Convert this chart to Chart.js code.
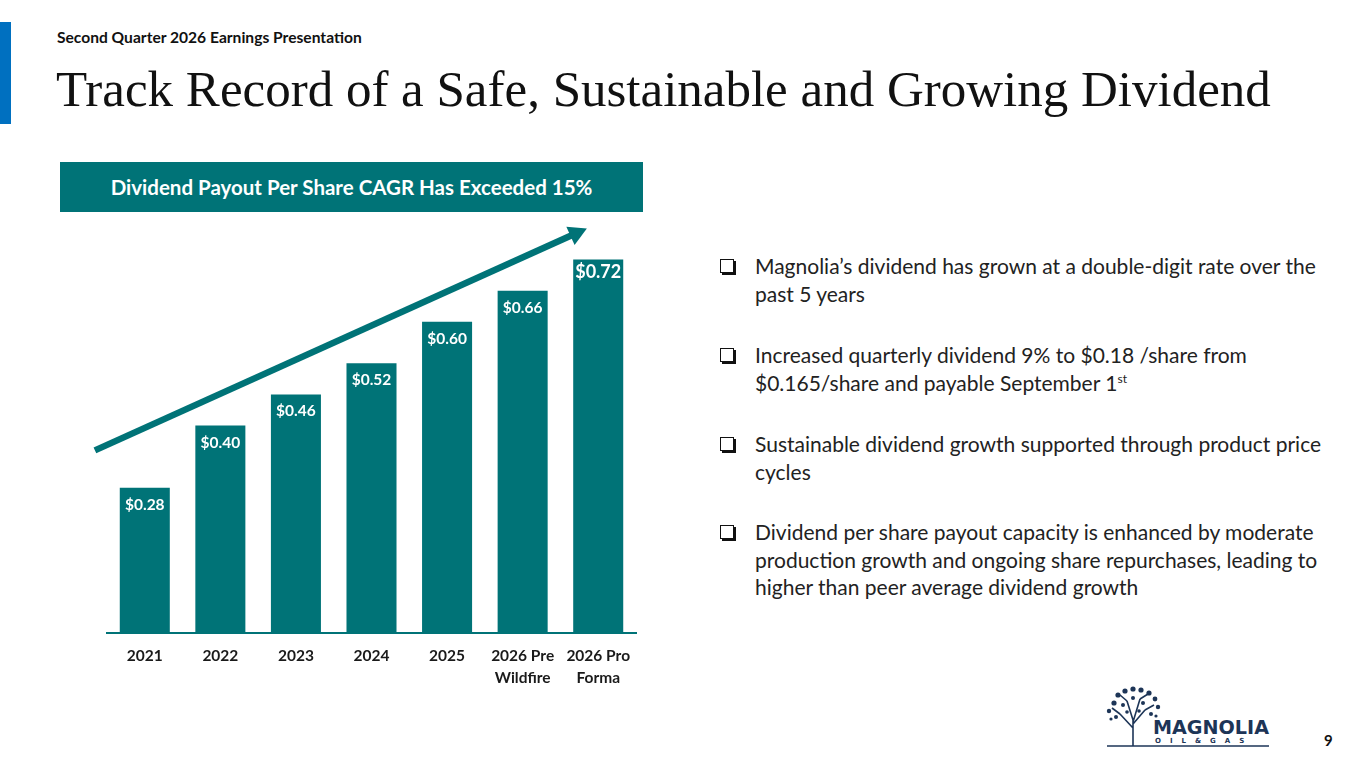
<!DOCTYPE html>
<html>
<head>
<meta charset="utf-8">
<script src="https://cdn.jsdelivr.net/npm/chart.js@4.4.1/dist/chart.umd.min.js"></script>
<style>
  html, body { margin: 0; padding: 0; background: #fff; }
  body { width: 1365px; height: 768px; position: relative; overflow: hidden; font-family: Lato, "Open Sans", sans-serif; color: #1a1a1a; }
  .sidebar { position: absolute; left: 0; top: 22px; width: 11px; height: 102px; background: #0070C0; }
  .kicker { position: absolute; left: 57px; top: 28px; font-size: 15.6px; font-weight: 700; color: #111; white-space: nowrap; }
  .title { position: absolute; left: 56px; top: 60px; font-family: "Liberation Serif", "Times New Roman", serif; font-size: 51px; color: #111; white-space: nowrap; line-height: 1.15; }
  .banner { position: absolute; left: 60px; top: 162px; width: 583px; height: 50px; background: #007377; color: #fff; font-weight: 700; font-size: 20.5px; display: flex; align-items: center; justify-content: center; }
  #wrap { position: absolute; left: 60px; top: 200px; width: 600px; height: 500px; }
  .bullet { position: absolute; left: 720px; font-size: 21px; line-height: 27.5px; color: #222; white-space: nowrap; }
  .bullet .box { position: absolute; left: 0; top: 7px; width: 12px; height: 12px; border: 1.5px solid #111; box-shadow: 2px 2px 0 #111; }
  .bullet .txt { position: absolute; left: 35px; top: 0; }
  .bullet sup { font-size: 12px; line-height: 0; }
  .logo { position: absolute; left: 1105px; top: 686px; width: 170px; height: 64px; }
  .pagenum { position: absolute; left: 1324px; top: 731px; font-size: 15px; font-weight: 700; color: #111; }
</style>
</head>
<body>
<div class="sidebar"></div>
<div class="kicker">Second Quarter 2026 Earnings Presentation</div>
<div class="title">Track Record of a Safe, Sustainable and Growing Dividend</div>
<div class="banner">Dividend Payout Per Share CAGR Has Exceeded 15%</div>
<div id="wrap"><canvas id="myChart"></canvas></div>

<div class="bullet" style="top:252px"><span class="box"></span><div class="txt">Magnolia’s dividend has grown at a double-digit rate over the<br>past 5 years</div></div>
<div class="bullet" style="top:341px"><span class="box"></span><div class="txt">Increased quarterly dividend 9% to $0.18 /share from<br>$0.165/share and payable September 1<sup>st</sup></div></div>
<div class="bullet" style="top:430px"><span class="box"></span><div class="txt">Sustainable dividend growth supported through product price<br>cycles</div></div>
<div class="bullet" style="top:518px"><span class="box"></span><div class="txt">Dividend per share payout capacity is enhanced by moderate<br>production growth and ongoing share repurchases, leading to<br>higher than peer average dividend growth</div></div>

<svg class="logo" viewBox="0 0 170 64">
  <g stroke="#1d3557" fill="none" stroke-width="1.6">
    <path d="M28 60 L28 32 M28 42 L15 28 M28 38 L40 24 M28 34 L22 15 M28 36 L35 13 M15 28 L7 22 M40 24 L49 19 M22 15 L15 9 M35 13 L43 8"/>
  </g>
  <g fill="#1d3557">
    <circle cx="9" cy="17" r="2.6"/><circle cx="4" cy="25" r="2.2"/><circle cx="13" cy="9" r="2.6"/>
    <circle cx="20" cy="5" r="2.6"/><circle cx="28" cy="3" r="2.6"/><circle cx="36" cy="4" r="2.6"/>
    <circle cx="44" cy="7" r="2.6"/><circle cx="50" cy="13" r="2.4"/><circle cx="53" cy="21" r="2.2"/>
    <circle cx="18" cy="19" r="2"/><circle cx="38" cy="17" r="2"/><circle cx="28" cy="12" r="2"/>
    <circle cx="11" cy="31" r="2"/><circle cx="46" cy="28" r="2"/><circle cx="22" cy="26" r="1.8"/>
    <circle cx="34" cy="25" r="1.8"/><circle cx="6" cy="33" r="1.6"/><circle cx="51" cy="30" r="1.6"/>
  </g>
  <text x="48" y="48" font-family="'DejaVu Sans', sans-serif" font-weight="900" font-size="19" fill="#1d3557" textLength="116" lengthAdjust="spacingAndGlyphs">MAGNOLIA</text>
  <text x="50" y="57" font-family="'DejaVu Sans', sans-serif" font-weight="700" font-size="7" fill="#1d3557" letter-spacing="9">OIL&amp;GAS</text>
  <line x1="2" y1="60" x2="164" y2="60" stroke="#1d3557" stroke-width="1.5"/>
</svg>
<div class="pagenum">9</div>

<script>
// categorias e valores (dividendo anual por ação, US$)
var years = ['2021', '2022', '2023', '2024', '2025', ['2026 Pre', 'Wildfire'], ['2026 Pro', 'Forma']];
var dividend = [0.28, 0.40, 0.46, 0.52, 0.60, 0.66, 0.72];
var valueLabels = ['$0.28', '$0.40', '$0.46', '$0.52', '$0.60', '$0.66', '$0.72'];

// seta de tendência, em unidades do gráfico (índice da categoria, valor)
var arrowFrom = [-0.66, 0.352];
var arrowTo = [5.85, 0.78];

var teal = '#007377';

// rótulos dentro das barras
var barLabels = {
  id: 'barLabels',
  afterDatasetsDraw: function (chart) {
    var ctx = chart.ctx;
    var meta = chart.getDatasetMeta(0);
    ctx.save();
    ctx.fillStyle = '#fff';
    ctx.textAlign = 'center';
    ctx.textBaseline = 'middle';
    meta.data.forEach(function (bar, i) {
      var last = i === meta.data.length - 1;
      ctx.font = 'bold ' + (last ? 18 : 15.5) + 'px Lato, sans-serif';
      ctx.fillText(valueLabels[i], bar.x, bar.y + (last ? 13 : 17));
    });
    ctx.restore();
  }
};

// seta
var trendArrow = {
  id: 'trendArrow',
  afterDraw: function (chart) {
    var x = chart.scales.x, y = chart.scales.y, ctx = chart.ctx;
    var x1 = x.getPixelForValue(arrowFrom[0]), y1 = y.getPixelForValue(arrowFrom[1]);
    var x2 = x.getPixelForValue(arrowTo[0]), y2 = y.getPixelForValue(arrowTo[1]);
    var ang = Math.atan2(y2 - y1, x2 - x1);
    var head = 18, half = 10;
    var bx = x2 - head * Math.cos(ang), by = y2 - head * Math.sin(ang);
    ctx.save();
    ctx.strokeStyle = teal;
    ctx.fillStyle = teal;
    ctx.lineWidth = 6.5;
    ctx.beginPath();
    ctx.moveTo(x1, y1);
    ctx.lineTo(bx + 2 * Math.cos(ang), by + 2 * Math.sin(ang));
    ctx.stroke();
    ctx.beginPath();
    ctx.moveTo(x2, y2);
    ctx.lineTo(bx - half * Math.sin(ang), by + half * Math.cos(ang));
    ctx.lineTo(bx + half * Math.sin(ang), by - half * Math.cos(ang));
    ctx.closePath();
    ctx.fill();
    ctx.restore();
  }
};

var ctx = document.getElementById('myChart').getContext('2d');
var chart = new Chart(ctx, {
  type: 'bar',
  data: {
    labels: years,
    datasets: [{
      data: dividend,
      backgroundColor: teal,
      borderWidth: 0,
      categoryPercentage: 1,
      barPercentage: 0.662
    }]
  },
  options: {
    responsive: true,
    maintainAspectRatio: false,
    animation: false,
    layout: { padding: { left: 47, right: 24, top: 18, bottom: 0 } },
    plugins: { legend: { display: false }, tooltip: { enabled: false } },
    scales: {
      x: {
        grid: { display: false },
        border: { display: true, color: teal, width: 2 },
        ticks: {
          color: '#1a1a1a',
          padding: 4,
          maxRotation: 0,
          autoSkip: false,
          font: { family: 'Lato, sans-serif', size: 15.5, weight: 'bold', lineHeight: 1.42 }
        },
        afterFit: function (scale) { scale.height = 67; }
      },
      y: {
        display: false,
        min: 0,
        max: 0.8
      }
    }
  },
  plugins: [barLabels, trendArrow]
});
</script>
</body>
</html>
